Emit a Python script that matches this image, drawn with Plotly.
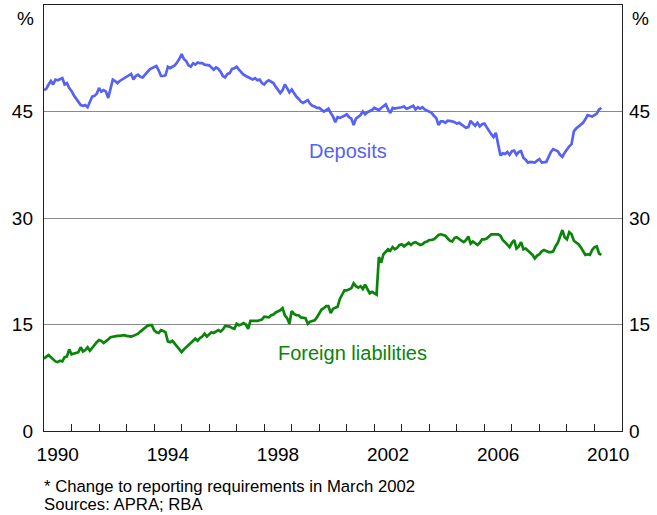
import plotly.graph_objects as go

# ---------------- data (monthly, Jan 1990 - Apr 2010) ----------------
start_year = 1990
deposits_by_year = [
    [48.0, 48.2, 48.8, 49.3, 48.8, 49.5, 49.4, 49.6, 49.7, 48.8, 49.0, 48.3],  # 1990
    [47.9, 47.3, 46.8, 46.4, 45.9, 45.8, 45.9, 45.6, 46.5, 47.1, 47.2, 47.5],  # 1991
    [48.3, 47.8, 48.0, 47.8, 46.9, 48.2, 49.5, 49.3, 49.0, 49.3, 49.5, 49.7],  # 1992
    [49.9, 50.1, 50.3, 49.5, 50.0, 50.2, 49.9, 49.8, 50.2, 50.6, 50.9, 51.1],  # 1993
    [51.2, 51.4, 50.8, 50.0, 50.0, 50.1, 51.3, 51.1, 51.3, 51.5, 51.9, 52.4],  # 1994
    [53.1, 52.4, 52.1, 51.5, 51.3, 51.8, 51.6, 51.9, 51.8, 51.8, 51.6, 51.6],  # 1995
    [51.5, 51.2, 50.9, 51.2, 51.0, 50.6, 50.0, 49.8, 50.3, 50.4, 51.0, 51.1],  # 1996
    [51.3, 50.9, 50.5, 50.2, 50.0, 49.8, 49.7, 49.5, 49.7, 49.4, 49.5, 49.0],  # 1997
    [48.8, 49.2, 49.4, 49.2, 49.0, 48.5, 48.0, 47.6, 48.0, 48.8, 48.3, 47.7],  # 1998
    [48.1, 47.6, 47.1, 46.8, 46.4, 46.2, 46.4, 46.6, 46.1, 45.8, 45.7, 45.5],  # 1999
    [45.5, 45.2, 45.0, 45.2, 45.4, 44.8, 44.3, 43.5, 44.2, 44.1, 44.2, 44.4],  # 2000
    [44.6, 44.2, 44.0, 43.1, 44.0, 44.3, 44.5, 45.0, 44.6, 44.9, 45.0, 45.2],  # 2001
    [45.5, 45.4, 45.2, 45.5, 45.7, 46.0, 45.3, 44.8, 45.5, 45.4, 45.5, 45.5],  # 2002
    [45.6, 45.7, 45.4, 45.5, 45.7, 45.8, 45.3, 45.6, 45.4, 45.6, 45.3, 45.1],  # 2003
    [45.0, 44.8, 44.4, 44.1, 43.1, 43.6, 43.6, 43.4, 43.7, 43.7, 43.6, 43.5],  # 2004
    [43.3, 43.4, 43.2, 43.0, 42.7, 42.8, 43.7, 43.3, 43.0, 43.4, 42.9, 43.2],  # 2005
    [43.3, 42.8, 42.2, 41.8, 41.4, 42.0, 40.4, 38.8, 39.1, 39.0, 39.3, 38.9],  # 2006
    [39.4, 39.5, 38.9, 39.3, 39.4, 38.5, 38.2, 37.8, 37.9, 37.8, 37.8, 38.1],  # 2007
    [38.3, 37.8, 37.9, 37.9, 38.6, 39.3, 39.7, 39.6, 39.4, 38.9, 38.6, 39.2],  # 2008
    [39.7, 40.1, 40.4, 42.2, 42.6, 42.9, 43.1, 43.4, 43.9, 44.5, 44.4, 44.3],  # 2009
    [44.5, 44.7, 45.3, 45.5],                                                  # 2010
]
foreign_by_year = [
    [10.2, 10.5, 10.7, 10.4, 10.1, 9.8, 9.7, 9.9, 9.8, 10.4, 10.5, 11.5],      # 1990
    [10.8, 10.9, 10.9, 11.1, 11.8, 11.2, 11.4, 11.8, 11.3, 11.7, 12.2, 12.5],  # 1991
    [12.8, 12.7, 12.4, 12.6, 12.9, 13.2, 13.3, 13.3, 13.4, 13.4, 13.5, 13.5],  # 1992
    [13.4, 13.3, 13.3, 13.4, 13.5, 13.7, 14.0, 14.3, 14.6, 14.8, 14.9, 14.9],  # 1993
    [14.2, 13.9, 13.8, 14.2, 14.1, 13.9, 12.6, 12.5, 12.7, 12.3, 11.9, 11.6],  # 1994
    [11.1, 11.5, 11.8, 12.1, 12.4, 12.6, 13.0, 12.7, 13.1, 13.3, 13.7, 13.3],  # 1995
    [13.6, 13.9, 13.8, 14.0, 14.2, 14.0, 14.3, 14.8, 14.8, 14.7, 14.5, 14.4],  # 1996
    [15.1, 14.9, 15.0, 15.2, 15.0, 14.4, 15.5, 15.5, 15.4, 15.5, 15.6, 15.7],  # 1997
    [16.1, 16.0, 16.0, 16.3, 16.4, 16.7, 16.8, 17.0, 17.3, 16.3, 15.9, 15.1],  # 1998
    [16.9, 16.5, 16.3, 16.3, 16.0, 15.9, 15.9, 15.1, 15.4, 15.5, 15.6, 16.0],  # 1999
    [16.5, 17.1, 17.3, 17.6, 17.6, 16.6, 17.2, 17.4, 17.5, 18.6, 19.3, 19.8],  # 2000
    [19.8, 19.9, 20.1, 20.8, 20.4, 20.2, 20.4, 20.0, 20.6, 20.0, 19.4, 19.6],  # 2001
    [19.4, 19.2, 24.5, 23.7, 24.9, 25.3, 25.6, 25.4, 25.9, 25.6, 25.8, 26.2],  # 2002
    [26.3, 26.0, 26.2, 26.5, 26.2, 26.5, 26.6, 26.4, 26.2, 26.3, 26.6, 26.7],  # 2003
    [26.9, 26.9, 27.0, 27.3, 27.6, 27.7, 27.6, 27.5, 27.1, 26.8, 26.7, 27.2],  # 2004
    [27.3, 27.0, 26.8, 26.6, 26.9, 27.4, 26.4, 26.7, 26.5, 26.2, 26.5, 27.0],  # 2005
    [27.0, 27.1, 27.4, 27.7, 27.7, 27.7, 27.7, 27.5, 26.9, 26.6, 26.2, 25.9],  # 2006
    [26.5, 26.9, 25.7, 26.0, 26.6, 25.6, 25.7, 25.4, 25.1, 24.8, 24.3, 24.7],  # 2007
    [24.9, 25.3, 25.5, 25.3, 25.2, 25.2, 25.3, 26.0, 26.5, 27.4, 28.3, 27.3],  # 2008
    [27.0, 28.0, 27.7, 26.8, 26.6, 26.3, 25.9, 25.4, 24.8, 24.9, 24.8, 25.5],  # 2009
    [25.9, 26.0, 25.0, 24.8],                                                  # 2010
]

year_labels = ["1990", "1994", "1998", "2002", "2006", "2010"]
y_ticks = [0, 15, 30, 45]
footnotes = ["* Change to reporting requirements in March 2002", "Sources: APRA; RBA"]


def flatten(by_year):
    xs, ys = [], []
    for i, row in enumerate(by_year):
        for m, v in enumerate(row):
            xs.append(start_year + i + m / 12.0)
            ys.append(v)
    return xs, ys


dep_x, dep_y = flatten(deposits_by_year)
for_x, for_y = flatten(foreign_by_year)

BLUE = "#5562F2"
GREEN = "#0A840A"
FONT = "Arial, 'Liberation Sans', sans-serif"

fig = go.Figure()
fig.add_trace(go.Scatter(x=dep_x, y=dep_y, mode="lines",
                         line=dict(color=BLUE, width=2.7), showlegend=False))
fig.add_trace(go.Scatter(x=for_x, y=for_y, mode="lines", yaxis="y2",
                         line=dict(color=GREEN, width=2.7), showlegend=False))

label_pos = [int(s) + 0.5 for s in year_labels]
fig.update_layout(
    width=657, height=515,
    margin=dict(l=44, r=35, t=5, b=84),
    paper_bgcolor="white", plot_bgcolor="white",
    font=dict(family=FONT, color="black", size=19),
    xaxis=dict(range=[1990, 2011], tickvals=label_pos, ticktext=year_labels,
               ticks="", showgrid=False, zeroline=False,
               showline=True, linecolor="#222", linewidth=1.4, mirror=True,
               ticklabelstandoff=6, tickfont=dict(size=19),
               minor=dict(tickvals=list(range(1991, 2011)), ticks="inside",
                          ticklen=7, tickcolor="#222", tickwidth=1, showgrid=False)),
    yaxis=dict(range=[0, 60], tickvals=y_ticks, ticks="", showgrid=True,
               gridcolor="#8a8a8a", gridwidth=1, zeroline=False,
               showline=True, linecolor="#222", linewidth=1.4, mirror=True,
               ticklabelstandoff=6, tickfont=dict(size=19)),
    yaxis2=dict(range=[0, 60], tickvals=y_ticks, ticks="", overlaying="y",
                side="right", showgrid=False, zeroline=False, showline=False,
                ticklabelstandoff=6, tickfont=dict(size=19)),
)

fig.add_annotation(xref="paper", yref="y", x=0, y=58.1, text="%", showarrow=False,
                   xanchor="right", xshift=-8, font=dict(size=19))
fig.add_annotation(xref="paper", yref="y", x=1, y=58.1, text="%", showarrow=False,
                   xanchor="left", xshift=8, font=dict(size=19))
fig.add_annotation(x=2001.03, y=39.5, text="Deposits", showarrow=False,
                   font=dict(size=20, color=BLUE))
fig.add_annotation(x=2001.2, y=10.95, text="Foreign liabilities", showarrow=False,
                   font=dict(size=20, color=GREEN))
fig.add_annotation(xref="paper", yref="paper", x=0, y=-0.130, text=footnotes[0],
                   showarrow=False, xanchor="left", yanchor="middle", xshift=-2,
                   font=dict(size=16.7))
fig.add_annotation(xref="paper", yref="paper", x=0, y=-0.173, text=footnotes[1],
                   showarrow=False, xanchor="left", yanchor="middle", xshift=-2,
                   font=dict(size=16.7))

fig.write_html("out.html", config={"displayModeBar": False},
               post_script="document.body.style.margin='0';document.body.style.overflow='hidden';")
